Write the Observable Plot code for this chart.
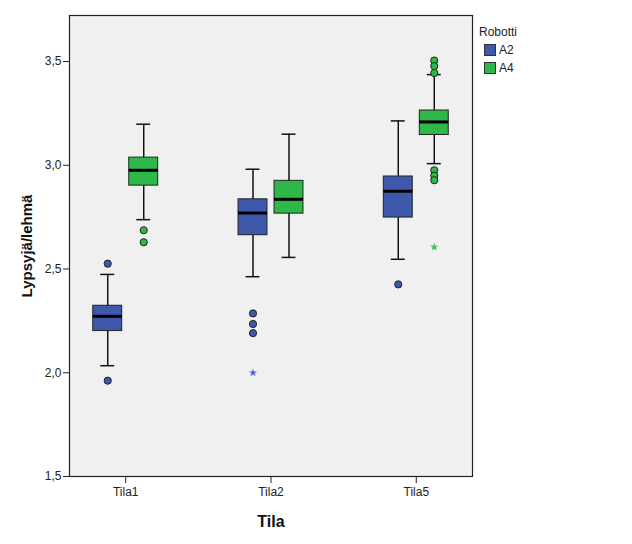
<!DOCTYPE html>
<html><head><meta charset="utf-8">
<script src="https://cdn.jsdelivr.net/npm/d3@7"></script>
<script src="https://cdn.jsdelivr.net/npm/@observablehq/plot@0.6"></script>
<style>
body{margin:0;background:#fff;font-family:"Liberation Sans",Arial,sans-serif;}
#wrap{position:relative;width:632px;height:544px;}
#legend{position:absolute;left:477px;top:23px;font-size:12px;color:#222;line-height:18px;}
#legend .row{display:flex;align-items:center;height:18px;}
#legend .sw{width:12px;height:12px;box-sizing:border-box;border:1px solid #333;margin:0 3px 0 7px;}
</style></head><body><div id="wrap"></div>
<script>
const tilat = ["Tila1", "Tila2", "Tila5"];
const robotit = ["A2", "A4"];
const colors = ["#3E58AC", "#2EB848"];
const starColors = ["#5566C4", "#3CC055"];
const yTicks = [1.5, 2.0, 2.5, 3.0, 3.5];

// box statistics per robot, in tilat order
const lowA2 = [2.034, 2.463, 2.547];
const q1A2  = [2.201, 2.663, 2.748];
const medA2 = [2.272, 2.770, 2.875];
const q3A2  = [2.323, 2.836, 2.946];
const highA2 = [2.474, 2.981, 3.214];

const lowA4 = [2.738, 2.556, 3.008];
const q1A4  = [2.902, 2.767, 3.146];
const medA4 = [2.976, 2.836, 3.209];
const q3A4  = [3.037, 2.925, 3.264];
const highA4 = [3.198, 3.150, 3.437];

// outliers (circles)
const outTila  = ["Tila1","Tila1","Tila1","Tila1","Tila2","Tila2","Tila2","Tila5","Tila5","Tila5","Tila5","Tila5","Tila5","Tila5"];
const outRobot = ["A2","A2","A4","A4","A2","A2","A2","A2","A4","A4","A4","A4","A4","A4"];
const outValue = [2.526, 1.962, 2.687, 2.629, 2.286, 2.235, 2.191, 2.426, 3.505, 3.478, 3.445, 2.976, 2.950, 2.928];

// extremes (stars)
const extTila  = ["Tila2", "Tila5"];
const extRobot = ["A2", "A4"];
const extValue = [2.000, 2.606];

const statsFor = (r) => {
  const [lo, q1, med, q3, hi] = r === "A2"
    ? [lowA2, q1A2, medA2, q3A2, highA2]
    : [lowA4, q1A4, medA4, q3A4, highA4];
  return tilat.map((t, i) => ({tila: t, robot: r, lo: lo[i], q1: q1[i], med: med[i], q3: q3[i], hi: hi[i]}));
};
const outliers = outValue.map((v, i) => ({tila: outTila[i], robot: outRobot[i], value: v}));
const extremes = extValue.map((v, i) => ({tila: extTila[i], robot: extRobot[i], value: v}));

const half = 36;
const off = 18;
const capIn = 7.5;

const marks = [Plot.frame({fill: "#F0F0F0"})];
robotit.forEach((r, k) => {
  const s = statsFor(r);
  const boxInset = k === 0 ? {insetLeft: 0, insetRight: half} : {insetLeft: half, insetRight: 0};
  const capInset = k === 0 ? {insetLeft: capIn, insetRight: half + capIn} : {insetLeft: half + capIn, insetRight: capIn};
  const dx = k === 0 ? -off : off;
  marks.push(
    Plot.ruleX(s, {x: "tila", y1: "lo", y2: "hi", dx, stroke: "#111", strokeWidth: 1.5}),
    Plot.tickY(s, {x: "tila", y: "lo", stroke: "#111", strokeWidth: 1.5, ...capInset}),
    Plot.tickY(s, {x: "tila", y: "hi", stroke: "#111", strokeWidth: 1.5, ...capInset}),
    Plot.barY(s, {x: "tila", y1: "q1", y2: "q3", fill: colors[k], stroke: "#222", strokeWidth: 1, ...boxInset}),
    Plot.tickY(s, {x: "tila", y: "med", stroke: "#000", strokeWidth: 3, ...boxInset}),
    Plot.dot(outliers.filter(d => d.robot === r), {x: "tila", y: "value", dx, r: 3.6, fill: colors[k], stroke: "#222", strokeWidth: 1}),
    Plot.dot(extremes.filter(d => d.robot === r), {x: "tila", y: "value", dx, r: 2.6, symbol: "star", fill: starColors[k], stroke: null})
  );
});
marks.push(
  Plot.frame({stroke: "#222", strokeWidth: 1.2}),
  Plot.axisY({ticks: yTicks, tickFormat: d => d3.format(".1f")(d).replace(".", ","), tickSize: 6, tickPadding: 2, label: null, fontSize: 12, color: "#222"}),
  Plot.axisX({tickSize: 7, tickPadding: 4, label: null, fontSize: 12, color: "#222"}),
  Plot.text(["Lypsyjä/lehmä"], {frameAnchor: "left", dx: -42, rotate: -90, textAnchor: "middle", lineAnchor: "middle", text: d => d, fontWeight: "bold", fontSize: 15, fill: "#111"}),
  Plot.text(["Tila"], {frameAnchor: "bottom", dy: 45, textAnchor: "middle", lineAnchor: "middle", text: d => d, fontWeight: "bold", fontSize: 16, fill: "#111"})
);

const chart = Plot.plot({
  width: 632,
  height: 544,
  marginLeft: 69,
  marginRight: 160,
  marginTop: 15,
  marginBottom: 68,
  style: {fontFamily: '"Liberation Sans", Arial, sans-serif', background: "#fff"},
  x: {type: "band", domain: tilat, paddingInner: 0.553, paddingOuter: 0.1635, round: false},
  y: {domain: [1.5, 3.722]},
  marks
});
const wrap = document.getElementById("wrap");
wrap.appendChild(chart);

const legend = document.createElement("div");
legend.id = "legend";
legend.innerHTML = `<div class="row" style="margin-left:2px">Robotti</div>` +
  robotit.map((r, k) => `<div class="row"><div class="sw" style="background:${colors[k]}"></div>${r}</div>`).join("");
wrap.appendChild(legend);
</script>
</body></html>
